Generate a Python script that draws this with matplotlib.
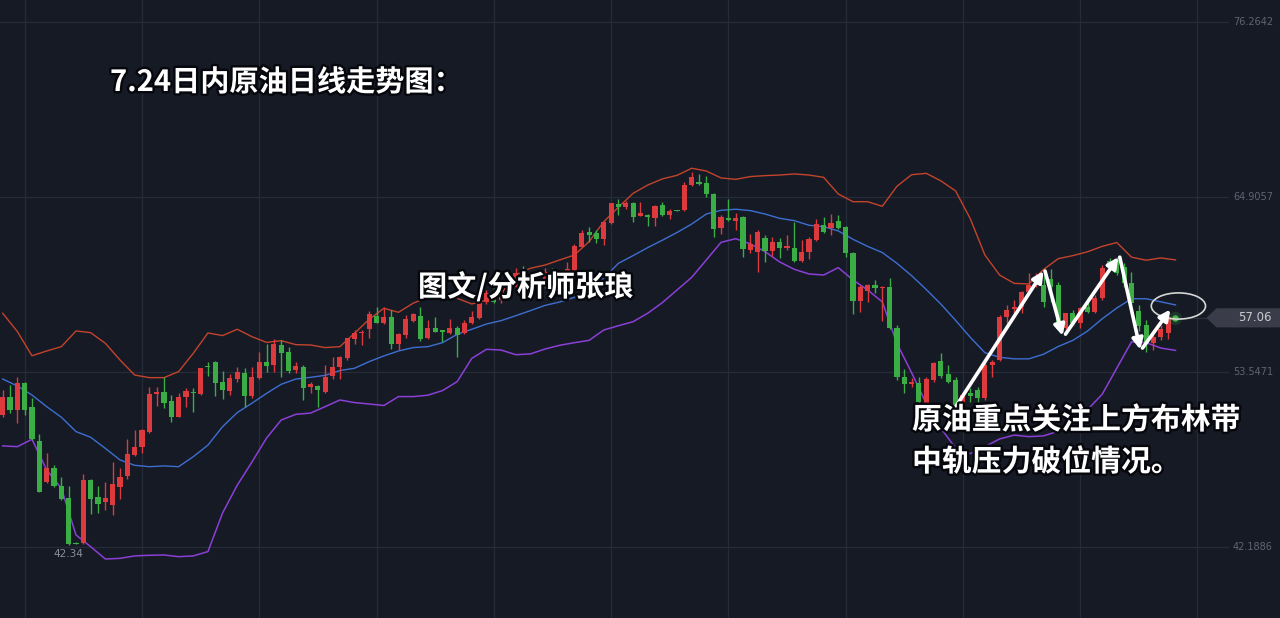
import matplotlib
matplotlib.use("Agg")
import matplotlib.pyplot as plt
from matplotlib.patches import Ellipse, Polygon
import matplotlib.patheffects as pe

# ---------------- data (daily crude oil, OHLC) ----------------
opens = [50.76, 51.95, 51.08, 52.86, 51.30, 49.07, 46.43, 47.30, 46.15, 45.39,
         42.45, 42.45, 46.54, 45.41, 45.09, 44.92, 46.11, 46.80, 48.16, 48.66,
         49.67, 52.12, 52.23, 51.69, 50.65, 51.90, 52.27, 52.12, 53.96, 54.18,
         52.92, 52.34, 53.07, 53.50, 51.99, 53.14, 54.22, 54.00, 55.30, 54.87,
         53.68, 53.89, 52.55, 52.64, 52.27, 53.29, 53.89, 54.43, 55.67, 56.06,
         56.32, 57.18, 56.75, 57.14, 55.34, 55.95, 56.88, 57.20, 55.73, 56.38,
         56.27, 56.06, 56.42, 56.06, 56.71, 57.03, 58.11, 58.76, 58.20, 58.90,
         59.09, 60.12, 59.84, 58.98, 59.04, 60.06, 59.30, 59.52, 60.17, 61.68,
         62.66, 62.55, 62.16, 63.24, 64.43, 64.24, 64.50, 63.67, 63.74, 63.52,
         64.39, 63.74, 64.06, 64.06, 65.69, 65.90, 65.79, 65.10, 62.87, 63.56,
         63.37, 63.63, 61.47, 61.36, 62.27, 61.42, 62.01, 61.57, 61.62, 60.77,
         61.36, 62.11, 63.09, 62.87, 63.35, 62.94, 61.29, 58.18, 58.83, 59.19,
         59.02, 59.09, 56.38, 53.24, 52.77, 52.85, 51.56, 53.03, 54.28, 53.42,
         53.03, 50.76, 52.21, 52.38, 51.84, 54.00, 54.33, 57.14, 57.62, 57.74,
         58.76, 59.19, 59.19, 59.56, 59.19, 56.38, 57.36, 56.75, 57.79, 57.46,
         58.33, 60.75, 60.82, 60.38, 59.32, 57.51, 56.60, 55.43, 55.82, 56.08,
         57.12]
highs = [52.38, 52.70, 53.25, 52.92, 51.84, 49.52, 48.31, 47.51, 46.71, 46.15,
         42.50, 46.91, 46.60, 46.15, 46.43, 47.73, 47.34, 49.18, 49.78, 49.85,
         52.55, 52.60, 53.20, 52.06, 52.21, 52.49, 52.49, 53.83, 54.22, 54.26,
         53.61, 53.42, 53.85, 53.79, 53.89, 54.87, 55.34, 55.67, 55.62, 55.19,
         54.22, 54.00, 52.92, 52.70, 54.00, 54.54, 54.59, 55.78, 56.27, 56.27,
         57.53, 57.74, 57.74, 57.57, 56.06, 57.25, 57.36, 57.74, 56.92, 57.14,
         56.30, 56.97, 56.53, 56.92, 57.53, 58.39, 58.87, 58.98, 59.10, 59.40,
         60.28, 60.43, 60.06, 59.50, 60.28, 60.28, 60.00, 60.71, 61.83, 62.76,
         62.98, 62.76, 63.37, 64.54, 64.75, 64.67, 64.55, 64.60, 63.78, 64.39,
         64.60, 64.11, 64.08, 65.90, 66.55, 66.40, 66.27, 65.15, 63.74, 64.75,
         63.89, 63.67, 62.50, 62.76, 62.44, 62.29, 62.22, 62.44, 63.30, 62.11,
         62.29, 63.46, 63.63, 63.80, 63.74, 63.02, 61.36, 59.19, 59.26, 59.52,
         59.13, 59.63, 56.60, 53.72, 53.14, 53.24, 53.24, 54.22, 54.76, 54.00,
         53.24, 52.27, 52.49, 52.59, 54.22, 54.33, 57.25, 57.90, 58.22, 58.80,
         59.95, 59.95, 59.84, 60.21, 59.41, 57.40, 57.57, 57.79, 58.44, 58.55,
         60.49, 60.92, 61.03, 60.60, 60.04, 57.90, 56.92, 56.21, 56.60, 57.38,
         57.15]
lows = [50.65, 50.91, 50.26, 50.76, 49.13, 45.74, 46.32, 46.10, 45.24, 42.34,
        42.38, 42.40, 44.31, 44.38, 44.59, 44.27, 45.28, 46.58, 48.10, 48.27,
        49.61, 51.34, 51.19, 50.33, 50.61, 51.26, 50.97, 52.06, 53.31, 51.99,
        51.79, 52.05, 52.88, 51.30, 51.84, 53.07, 53.57, 53.57, 53.24, 53.50,
        53.46, 51.73, 52.16, 51.25, 52.21, 53.07, 53.07, 54.33, 55.36, 55.30,
        55.73, 56.71, 56.66, 55.02, 54.97, 55.73, 56.81, 55.58, 55.67, 56.12,
        55.52, 56.01, 54.54, 56.01, 56.66, 56.97, 57.95, 58.00, 58.00, 58.70,
        59.04, 59.73, 58.87, 58.22, 58.98, 59.30, 59.20, 59.47, 60.12, 61.64,
        62.01, 61.90, 61.79, 63.15, 63.74, 64.11, 63.30, 63.67, 63.02, 63.02,
        63.67, 63.46, 63.97, 64.02, 65.62, 65.69, 64.93, 62.33, 62.50, 63.37,
        62.76, 60.99, 61.29, 60.06, 60.71, 61.08, 60.92, 61.47, 60.71, 60.70,
        60.86, 62.07, 62.59, 62.44, 62.81, 61.03, 57.31, 57.46, 58.11, 58.65,
        56.88, 56.35, 53.03, 52.16, 52.55, 51.51, 51.51, 52.92, 53.14, 52.81,
        50.97, 50.65, 51.62, 51.62, 51.73, 53.24, 54.28, 56.71, 57.36, 57.36,
        58.65, 59.09, 57.79, 58.11, 56.27, 56.06, 56.60, 56.38, 57.36, 57.36,
        58.22, 60.38, 59.84, 59.09, 57.77, 56.21, 54.85, 54.97, 55.62, 55.69,
        57.00]
closes = [51.95, 51.08, 52.81, 51.08, 49.18, 45.78, 47.30, 46.15, 45.28, 42.40,
          42.40, 46.54, 45.28, 44.98, 45.35, 46.28, 46.75, 48.20, 48.70, 49.78,
          52.12, 52.27, 51.51, 50.65, 51.95, 52.34, 52.16, 53.80, 53.85, 52.81,
          52.38, 53.14, 53.53, 52.01, 53.20, 54.22, 53.94, 55.34, 54.80, 53.63,
          53.94, 52.49, 52.75, 52.38, 53.24, 53.89, 54.50, 55.73, 56.06, 56.17,
          57.29, 56.75, 57.14, 55.36, 55.99, 56.97, 57.29, 55.67, 56.43, 56.17,
          56.17, 56.38, 55.95, 56.75, 57.10, 58.36, 58.65, 58.11, 58.90, 59.10,
          60.00, 59.95, 59.41, 59.41, 60.06, 59.63, 59.75, 60.21, 61.75, 62.59,
          62.44, 62.16, 63.30, 64.50, 64.28, 64.50, 63.63, 63.85, 63.63, 64.34,
          63.74, 64.02, 63.99, 65.69, 66.18, 65.75, 65.10, 62.83, 63.63, 63.41,
          63.56, 61.51, 61.86, 62.66, 61.40, 62.01, 61.57, 61.75, 60.77, 61.36,
          62.16, 63.15, 62.66, 63.20, 62.87, 61.25, 58.18, 59.04, 59.19, 58.98,
          59.09, 56.38, 53.24, 52.77, 52.90, 51.62, 53.07, 54.11, 53.31, 52.92,
          51.30, 52.05, 51.99, 51.84, 54.00, 54.17, 57.14, 57.57, 57.79, 58.76,
          59.19, 59.52, 58.11, 59.09, 56.32, 57.36, 56.71, 57.72, 57.46, 58.33,
          60.32, 60.49, 59.95, 59.30, 58.03, 56.53, 55.43, 55.82, 56.34, 57.12,
          57.06]

# Bollinger bands read every second candle
band_step = 2
boll_upper = [57.36, 56.17, 54.6, 54.91, 55.19, 56.21, 56.1, 55.41, 54.33, 53.35,
              53.18, 53.18, 53.57, 54.76, 56.08, 55.91, 56.32, 55.84, 55.47, 55.58,
              55.32, 55.30, 55.13, 55.19, 56.06, 56.97, 57.68, 57.42, 58.01, 58.40,
              58.45, 58.33, 57.96, 58.22, 58.65, 59.84, 60.28, 60.49, 60.82, 61.14,
              62.01, 63.30, 64.24, 65.14, 65.68, 66.08, 66.31, 66.77, 66.59, 66.14,
              66.05, 66.23, 66.29, 66.33, 66.40, 66.33, 66.18, 65.1, 64.6, 64.6,
              64.3, 65.6, 66.35, 66.44, 65.95, 65.3, 63.5, 61.14, 59.84, 59.3,
              59.26, 60.2, 60.9, 61.1, 61.35, 61.7, 61.95, 61.0, 60.8, 60.95,
              60.82]
boll_mid = [53.09, 52.64, 52.05, 51.30, 50.61, 49.68, 49.31, 48.59, 47.84, 47.49,
            47.40, 47.45, 47.40, 48.05, 48.8, 50.0, 50.91, 51.52, 52.16, 52.75,
            53.09, 53.20, 53.33, 53.64, 53.79, 54.22, 54.59, 54.91, 55.13, 55.19,
            55.45, 55.99, 56.32, 56.66, 56.88, 57.20, 57.53, 57.87, 58.09, 58.39,
            58.96, 59.63, 60.60, 61.10, 61.62, 62.10, 62.6, 63.15, 63.80, 64.04,
            64.11, 64.02, 63.80, 63.52, 63.37, 63.07, 62.98, 62.7, 62.16, 61.7,
            61.3, 60.6, 59.8, 58.9, 57.95, 56.9, 55.8, 54.8, 54.5, 54.4,
            54.4, 54.7, 55.2, 55.6, 56.2, 57.0, 57.7, 58.3, 58.3, 58.1,
            57.9]
boll_lower = [48.75, 48.70, 49.18, 47.19, 46.00, 42.97, 42.21, 41.41, 41.45, 41.61,
              41.65, 41.67, 41.56, 41.61, 41.89, 44.4, 46.2, 47.7, 49.26, 50.43,
              50.80, 50.88, 51.30, 51.73, 51.56, 51.47, 51.37, 51.95, 51.95, 52.04,
              52.34, 52.92, 54.43, 55.02, 54.97, 54.67, 54.72, 55.04, 55.28, 55.45,
              55.60, 56.27, 56.55, 56.81, 57.36, 58.05, 58.87, 59.69, 60.82, 61.96,
              62.20, 61.86, 61.36, 60.69, 60.21, 59.91, 59.84, 60.32, 59.52, 58.87,
              58.1, 55.4, 53.5, 51.5, 49.9, 48.6, 48.25, 48.7, 49.2, 49.45,
              49.35, 49.4, 49.7, 50.35, 51.1, 52.1, 53.8, 55.5, 55.45, 55.1,
              54.95]

y_ticks = [76.2642, 64.9057, 53.5471, 42.1886]

title_text = "7.24日内原油日线走势图："
watermark_text = "图文/分析师张琅"
note_lines = ["原油重点关注上方布林带", "中轨压力破位情况。"]

# annotation arrows (candle index, price) start -> end
arrows = [((129.9, 51.2), (142.0, 60.1)),
          ((142.2, 60.1), (144.6, 55.9)),
          ((145.0, 56.0), (152.2, 61.0)),
          ((152.4, 61.0), (155.2, 55.0)),
          ((155.5, 55.1), (159.3, 57.6))]

# ---------------- style ----------------
BG = "#161a25"
GRID = "#262b39"
UP = "#dc3a3c"
DOWN = "#3bad45"
C_UP_BAND = "#c4432c"
C_MID_BAND = "#3d6fd2"
C_LOW_BAND = "#8a3fd6"
AX_TXT = "#5f6473"
CJK = ["Noto Sans CJK SC", "DejaVu Sans"]

W, H = 1280, 618
fig = plt.figure(figsize=(W / 100, H / 100), dpi=100, facecolor=BG)
ax = fig.add_axes([0, 0, 1, 1])
ax.set_facecolor(BG)
x_left, x_right = -0.368, 174.26
y_bot, y_top = 37.58, 77.69
ax.set_xlim(x_left, x_right)
ax.set_ylim(y_bot, y_top)
ax.axis("off")

# grid
for k in range(11):
    ax.axvline(3 + 16 * k, color=GRID, lw=0.9, zorder=0)
for v in y_ticks:
    ax.axhline(v, xmin=0, xmax=1228 / W, color=GRID, lw=0.9, zorder=0)
    ax.text(1233 / W, v, f"{v:.4f}", transform=ax.get_yaxis_transform(),
            color=AX_TXT, fontsize=7, va="center", ha="left",
            family="DejaVu Sans")

# bands
n = len(closes)
bx = list(range(0, n, band_step))
ax.plot(bx, boll_upper, color=C_UP_BAND, lw=1.0, zorder=2)
ax.plot(bx, boll_mid, color=C_MID_BAND, lw=1.0, zorder=2)
ax.plot(bx, boll_lower, color=C_LOW_BAND, lw=1.1, zorder=2)

# candles
for i in range(n):
    o, h, l, c = opens[i], highs[i], lows[i], closes[i]
    col = UP if c >= o else DOWN
    ax.vlines(i, l, h, color=col, lw=1.0, zorder=3)
    body = max(abs(c - o), 0.05)
    ax.bar(i, body, bottom=min(o, c), width=0.7, color=col, zorder=4,
           linewidth=0)

# lowest low label
imin = min(range(n), key=lambda k: lows[k])
ax.annotate(f"{lows[imin]:.2f}", (imin, lows[imin]), xytext=(0, -3),
            textcoords="offset points", ha="center", va="top",
            color="#8a8e9a", fontsize=7.5, family="DejaVu Sans")

# last price glow + tag
last = closes[-1]
ax.scatter([n - 1], [last], s=90, color=DOWN, alpha=0.18, zorder=5, linewidths=0)
ax.scatter([n - 1], [last], s=22, color="#45c24d", alpha=0.9, zorder=6, linewidths=0)
ax.plot([n - 1, 164.2], [last, last], color="#2c303c", lw=0.8, zorder=1)
tag = Polygon([(164.2, last), (165.6, last + 0.62), (x_right + 1, last + 0.62),
               (x_right + 1, last - 0.62), (165.6, last - 0.62)],
              closed=True, facecolor="#3a3d49", edgecolor="none", zorder=6)
ax.add_patch(tag)
ax.text(1255 / W, last, f"{last:.2f}", transform=ax.get_yaxis_transform(),
        color="#c9cad0", fontsize=8.5, ha="center", va="center",
        family="DejaVu Sans", zorder=7)

# ellipse highlight
ax.add_patch(Ellipse((160.4, 57.83), width=7.4, height=1.7, fill=False,
                     edgecolor="#d6d6d6", lw=1.2, zorder=7))

# arrows
for (x0, y0), (x1, y1) in arrows:
    ax.annotate("", xy=(x1, y1), xytext=(x0, y0),
                arrowprops=dict(arrowstyle="-|>", color="white", lw=2.6,
                                mutation_scale=16, shrinkA=0, shrinkB=0),
                zorder=8)

# texts
fx = lambda px: px / W
fy = lambda py: 1 - py / H
stroke = [pe.withStroke(linewidth=3.5, foreground="#07080d")]
fig.text(fx(110), fy(82), title_text, color="white", fontsize=21,
         family=CJK, weight="bold", va="center", ha="left",
         path_effects=stroke)
fig.text(fx(418), fy(287), watermark_text, color="white", fontsize=21,
         family=CJK, weight="bold", va="center", ha="left",
         path_effects=stroke)
fig.text(fx(912), fy(420), note_lines[0], color="white", fontsize=21.5,
         family=CJK, weight="bold", va="center", ha="left",
         path_effects=stroke)
fig.text(fx(912), fy(462), note_lines[1], color="white", fontsize=21.5,
         family=CJK, weight="bold", va="center", ha="left",
         path_effects=stroke)

fig.savefig("out.png", dpi=100, facecolor=BG)
